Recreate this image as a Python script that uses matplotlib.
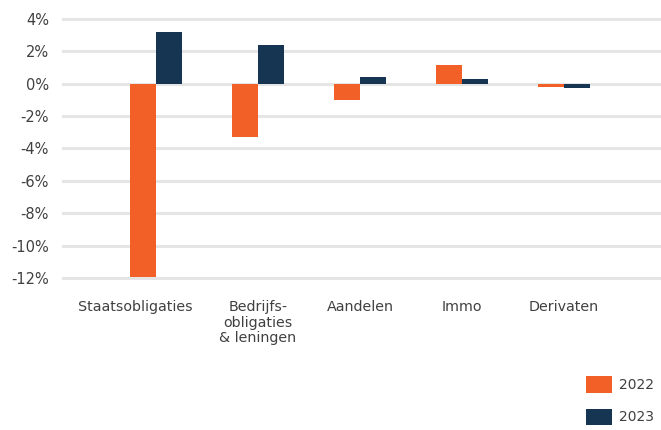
import matplotlib
matplotlib.use("Agg")
import matplotlib.pyplot as plt
import numpy as np

categories = ["Staatsobligaties", "Bedrijfs-\nobligaties\n& leningen", "Aandelen", "Immo", "Derivaten"]
series_names = ["2022", "2023"]
values_2022 = [-11.95, -3.3, -1.0, 1.15, -0.2]
values_2023 = [3.2, 2.4, 0.42, 0.3, -0.3]
yticks = [4, 2, 0, -2, -4, -6, -8, -10, -12]
ytick_labels = ["4%", "2%", "0%", "-2%", "-4%", "-6%", "-8%", "-10%", "-12%"]

# layout
label_offsets = [-0.2, 0.0, 0.0, 0.0, 0.0]
colors = ["#F26027", "#163552"]
text_color = "#404040"
grid_color = "#E5E5E5"

plt.rcParams['font.family'] = ['DejaVu Sans']

fig = plt.figure(figsize=(6.61, 4.30), dpi=100)
ax = fig.add_axes([63/661, 1-278/430, (660-63)/661, (278-18.7)/430])

x = np.arange(len(categories))
w = 0.255
b1 = ax.bar(x - w/2, values_2022, w, color=colors[0], label=series_names[0], zorder=3)
b2 = ax.bar(x + w/2, values_2023, w, color=colors[1], label=series_names[1], zorder=3)

ax.set_xlim(-0.912, 4.941)
ax.set_ylim(-12, 4)
ax.set_yticks(yticks)
ax.set_yticklabels(ytick_labels)
for t in yticks:
    ax.axhline(t, color=grid_color, lw=2.2, zorder=1, clip_on=False)

ax.set_xticks(x + np.array(label_offsets))
ax.set_xticklabels(categories, linespacing=1.12, va="top")
ax.tick_params(axis="x", length=0, pad=16, labelsize=10.3, colors=text_color)
ax.tick_params(axis="y", length=0, pad=10, labelsize=10.5, colors=text_color)
for s in ax.spines.values():
    s.set_visible(False)

leg = fig.legend(handles=[b1, b2], labels=series_names, loc="upper left",
                 bbox_to_anchor=(575/661, 1-365/430), frameon=False,
                 fontsize=10, handlelength=1.87, handleheight=1.45,
                 handletextpad=0.5, labelspacing=1.15, borderpad=0.3)
for t in leg.get_texts():
    t.set_color(text_color)

fig.savefig("out.png", dpi=100)
